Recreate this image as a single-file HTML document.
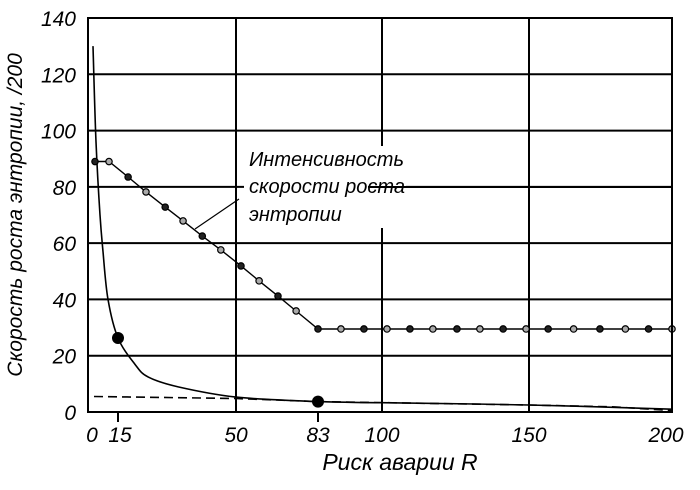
<!DOCTYPE html>
<html><head><meta charset="utf-8"><style>
html,body{margin:0;padding:0;background:#fff;}
svg{display:block;font-family:"Liberation Sans",sans-serif;font-style:italic;}
</style></head><body>
<svg id="chart" width="700" height="490">
<g id="grid"></g>
<g id="series"></g>
<g id="axes"></g>
<g>
<rect x="244" y="146" width="162" height="82" fill="#fff"/>
<line x1="368" y1="187" x2="672" y2="187" stroke="#000" stroke-width="2"/>
<line x1="239" y1="199" x2="195" y2="229" stroke="#000" stroke-width="1.2"/>
<text x="249" y="166" font-size="20">Интенсивность</text>
<text x="249" y="193" font-size="20">скорости роста</text>
<text x="249" y="221" font-size="20">энтропии</text>
</g>
<text x="22" y="215" font-size="21" text-anchor="middle" transform="rotate(-90 22 215)">Скорость роста энтропии, /200</text>
<text x="400" y="470" font-size="23" text-anchor="middle">Риск аварии  R</text>
</svg>
<script>
const xKnots=[0,15,50,83,100,150,200];
const xPix=[88,118,236,318,382,529,672];
const xTickLabels=[0,15,50,83,100,150,200];
const xGridValues=[50,100,150];
const yTickLabels=[0,20,40,60,80,100,120,140];
const intensityX=[3.5,10.5,18,23.3,29,34.3,40,45.5,52,59.3,66.9,74.2,83,89.1,95.2,101.7,109.5,117.3,125.5,133.3,141.2,149,156.7,165.6,174.8,183.7,191.8,200];
const intensityY=[89,89,83.5,78.2,72.8,67.9,62.5,57.6,51.9,46.6,41.2,35.9,29.5,29.5,29.5,29.5,29.5,29.5,29.5,29.5,29.5,29.5,29.5,29.5,29.5,29.5,29.5,29.5];
const curveX=[2.5,4,6,7.5,10,15,20,24,33,50,83,100,150,200];
const curveY=[130,96,70,57,40,26.3,17,12.4,8.9,5.3,3.7,3.3,2.5,1];
const dashX=[3,50,83,150,180,200];
const dashY=[5.5,4.8,3.7,2.5,1.8,0.5];
const bigDotX=[15,83];
const bigDotY=[26.3,3.7];
const NS="http://www.w3.org/2000/svg";
function X(v){for(let i=0;i<xKnots.length-1;i++){if(v<=xKnots[i+1]||i==xKnots.length-2){const t=(v-xKnots[i])/(xKnots[i+1]-xKnots[i]);return xPix[i]+t*(xPix[i+1]-xPix[i]);}}}
function Y(v){return 412-v*(394/140);}
function mk(tag,attrs,parent){const e=document.createElementNS(NS,tag);for(const k in attrs)e.setAttribute(k,attrs[k]);parent.appendChild(e);return e;}
const grid=document.getElementById('grid'),series=document.getElementById('series'),axes=document.getElementById('axes');
yTickLabels.forEach(v=>{if(v>0&&v<140){const l=mk('line',{x1:88,x2:672,y1:Y(v),y2:Y(v),stroke:'#000','stroke-width':2},grid);

}
const t=mk('text',{x:76,y:Y(v)+8,'font-size':21,'text-anchor':'end'},axes);t.textContent=v;

});
xGridValues.forEach(v=>{const l=mk('line',{x1:X(v),x2:X(v),y1:Y(140),y2:Y(0),stroke:'#000','stroke-width':2},grid);

});
const fr=mk('rect',{x:88,y:Y(140),width:584,height:Y(0)-Y(140),fill:'none',stroke:'#000','stroke-width':2},axes);


xTickLabels.forEach(v=>{const t=mk('text',{x:X(v),y:442,'font-size':21,'text-anchor':'middle'},axes);t.textContent=v;
if(v==0)t.setAttribute('x',X(v)+4);
if(v==15)t.setAttribute('x',X(v)+2);
if(v==200)t.setAttribute('x',X(v)-6);

});
[15,83].forEach(v=>{const l=mk('line',{x1:X(v),x2:X(v),y1:412,y2:422,stroke:'#000','stroke-width':2},axes);

});
function path(xs,ys){return xs.map((x,i)=>(i?'L':'M')+X(x).toFixed(1)+' '+Y(ys[i]).toFixed(1)).join(' ');}
function smooth(xs,ys){const p=xs.map((x,i)=>[X(x),Y(ys[i])]);let d='M'+p[0][0]+' '+p[0][1];
for(let i=0;i<p.length-1;i++){const p0=p[i-1]||p[i],p1=p[i],p2=p[i+1],p3=p[i+2]||p2;
const c1=[p1[0]+(p2[0]-p0[0])/6,p1[1]+(p2[1]-p0[1])/6],c2=[p2[0]-(p3[0]-p1[0])/6,p2[1]-(p3[1]-p1[1])/6];
d+=' C'+c1[0].toFixed(1)+' '+c1[1].toFixed(1)+','+c2[0].toFixed(1)+' '+c2[1].toFixed(1)+','+p2[0].toFixed(1)+' '+p2[1].toFixed(1);}
return d;}
const dp=mk('path',{d:path(dashX,dashY),fill:'none',stroke:'#000','stroke-width':1.6,'stroke-dasharray':'9 5'},series);


const cp=mk('path',{d:smooth(curveX,curveY),fill:'none',stroke:'#000','stroke-width':1.6},series);


const ip=mk('path',{d:path(intensityX,intensityY),fill:'none',stroke:'#000','stroke-width':1.4},series);


intensityX.forEach((x,i)=>{const c=mk('circle',{cx:X(x),cy:Y(intensityY[i]),r:3.2,fill:i%2?'#aaa':'#222',stroke:'#000','stroke-width':1.2},series);

});
bigDotX.forEach((x,i)=>{const c=mk('circle',{cx:X(x),cy:Y(bigDotY[i]),r:6,fill:'#000'},series);

});
</script>
</body></html>
